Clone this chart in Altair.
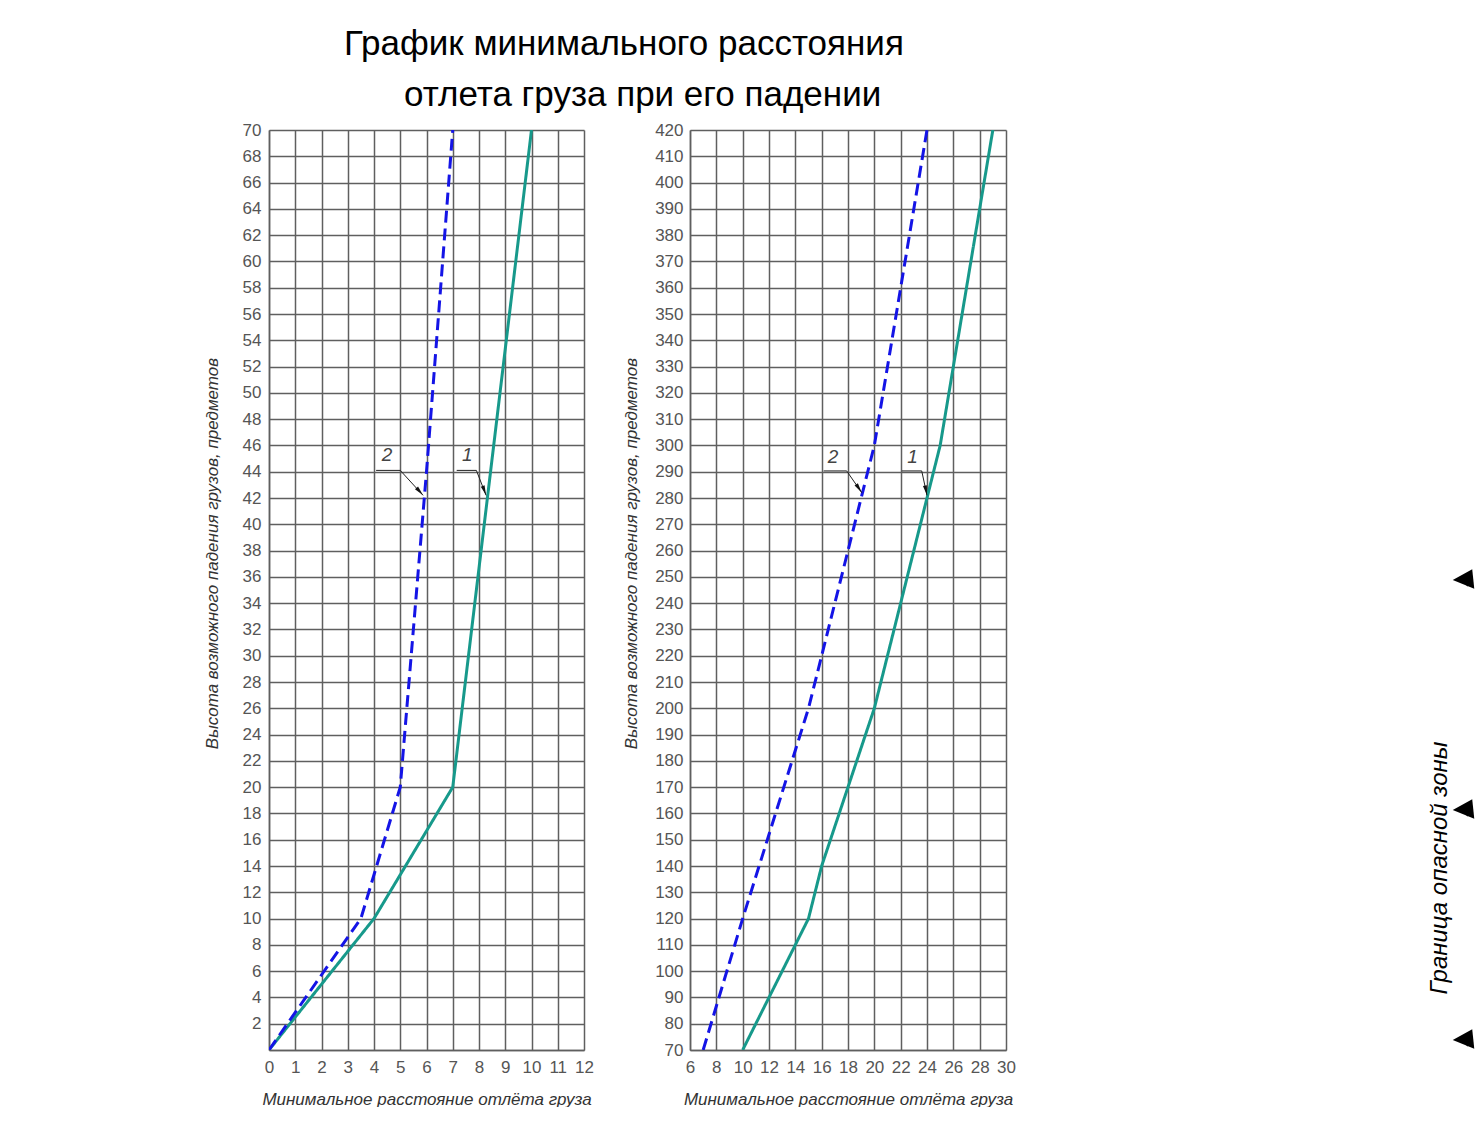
import altair as alt
import pandas as pd

# ---------------- texts ----------------
TITLE_1 = "График минимального расстояния"
TITLE_2 = "отлета груза при его падении"
Y_TITLE = "Высота возможного падения грузов, предметов"
X_TITLE = "Минимальное расстояние отлёта груза"
SIDE_TEXT = "Граница опасной зоны"
SERIES = ["1", "2"]

# ---------------- data: left panel (0..70 m) ----------------
left_h1 = [0, 10, 20, 70]
left_d1 = [0, 4, 7, 10]
left_h2 = [0, 10, 20, 44, 70]
left_d2 = [0, 3.5, 5, 6, 7]
left_x_ticks = list(range(0, 13))
left_y_ticks = list(range(0, 71, 2))

# ---------------- data: right panel (70..420 m) ----------------
right_h1 = [70, 110, 120, 140, 200, 280, 300, 390, 420]
right_d1 = [10, 14, 15, 16, 20, 24, 25, 28, 29]
right_h2 = [70, 120, 200, 300, 420]
right_d2 = [7, 10, 15, 20, 24]
right_x_ticks = list(range(6, 31, 2))
right_y_ticks = list(range(70, 421, 10))

# ---------------- callouts (leader lines "1" / "2") ----------------
left_lab_x = [4.5, 7.55]
left_lab_y = [45.3, 45.3]
left_shelf_x0 = [4.08, 7.15]
left_shelf_x1 = [5.0, 7.9]
left_shelf_y = [44.1, 44.1]
left_tip_x = [5.87, 8.27]
left_tip_y = [42.2, 42.2]
left_tip_angle = [139, 160]

right_lab_x = [16.86, 22.9]
right_lab_y = [295.6, 295.6]
right_shelf_x0 = [16.15, 22.1]
right_shelf_x1 = [17.9, 23.6]
right_shelf_y = [290.3, 290.3]
right_tip_x = [19.05, 24.0]
right_tip_y = [282.0, 281.0]
right_tip_angle = [146, 168]

# ---------------- side fragment (cut-off drawing at the right edge) ----------------
side_text_x = [20]
side_text_y = [738]
side_tri_x = [43, 43, 43]
side_tri_y = [450, 680, 910]
side_tail_x2 = [48, 48, 48]
side_tail_y2 = [456, 686, 916]

TEAL = "#17998b"
BLUE = "#1414e6"
GRID = "#5f5f5f"
LABEL_FONT = "Liberation Sans"
ARROW = "M0,0L0.5,2.5L-0.5,2.5Z"
SIDE_ARROW = "M-1,0L0.9,-1.05L1.1,0.85Z"
NO_VIEW = alt.ViewBackground(stroke="transparent", strokeWidth=0)


def make_axis(values, title, label_expr=None, title_y=None, tpad=24, lpad=8):
    kw = dict(
        values=values, title=title, grid=True, gridColor=GRID, gridWidth=1.5,
        gridOpacity=1, domainColor=GRID, domainWidth=1.5, ticks=False,
        labelFont=LABEL_FONT, labelFontSize=17, labelColor="#555",
        labelPadding=lpad, labelFlush=False, labelOverlap=False,
        titleFont=LABEL_FONT, titleFontSize=17, titleFontStyle="italic",
        titleFontWeight="normal", titleColor="#333", titlePadding=tpad,
    )
    if label_expr:
        kw["labelExpr"] = label_expr
    if title_y is not None:
        kw["titleY"] = title_y
    return alt.Axis(**kw)


def panel(d1, h1, d2, h2, xdom, ydom, xaxis, yaxis, lab_x, lab_y, sx0, sx1, sy,
          tx, ty, tang, width):
    xs = alt.Scale(domain=xdom, nice=False, zero=False)
    ys = alt.Scale(domain=ydom, nice=False, zero=False)

    def X(f):
        return alt.X(f, type="quantitative", scale=xs, axis=xaxis)

    def Y(f):
        return alt.Y(f, type="quantitative", scale=ys, axis=yaxis)

    df = pd.DataFrame({
        "d": d1 + d2,
        "h": h1 + h2,
        "s": [SERIES[0]] * len(d1) + [SERIES[1]] * len(d2),
    })
    lines = alt.Chart(df).mark_line(strokeWidth=3, clip=True).encode(
        x=X("d"), y=Y("h"),
        color=alt.Color("s:N", scale=alt.Scale(domain=SERIES, range=[TEAL, BLUE]), legend=None),
        strokeDash=alt.StrokeDash("s:N", scale=alt.Scale(domain=SERIES, range=[[1, 0], [12, 6]]), legend=None),
        order=alt.Order("h:Q"),
    )

    seg = pd.DataFrame({
        "d": sx0 + sx1,
        "h": sy + sy,
        "d2": sx1 + tx,
        "h2": sy + ty,
    })
    rules = alt.Chart(seg).mark_rule(color="#222", strokeWidth=1).encode(
        x=X("d"), y=Y("h"), x2="d2", y2="h2"
    )

    tips = pd.DataFrame({"d": tx, "h": ty, "a": tang})
    heads = alt.Chart(tips).mark_point(shape=ARROW, filled=True, color="#111", size=64, opacity=1).encode(
        x=X("d"), y=Y("h"), angle=alt.Angle("a:Q", scale=None)
    )

    labs = pd.DataFrame({"d": lab_x, "h": lab_y, "t": SERIES[::-1]})
    texts = alt.Chart(labs).mark_text(font=LABEL_FONT, fontStyle="italic", fontSize=19, color="#444").encode(
        x=X("d"), y=Y("h"), text="t:N"
    )

    return alt.layer(lines, rules, heads, texts).properties(width=width, height=920, view=NO_VIEW)


left = panel(
    left_d1, left_h1, left_d2, left_h2, [0, 12], [0, 70],
    make_axis(left_x_ticks, X_TITLE, tpad=16, lpad=9),
    make_axis(left_y_ticks, Y_TITLE, label_expr="datum.value == 0 ? '' : datum.label",
              title_y=423, tpad=21, lpad=8),
    left_lab_x, left_lab_y, left_shelf_x0, left_shelf_x1, left_shelf_y,
    left_tip_x, left_tip_y, left_tip_angle, 315,
)

right = panel(
    right_d1, right_h1, right_d2, right_h2, [6, 30], [70, 420],
    make_axis(right_x_ticks, X_TITLE, tpad=16, lpad=9),
    make_axis(right_y_ticks, Y_TITLE, title_y=423, tpad=14, lpad=7),
    right_lab_x, right_lab_y, right_shelf_x0, right_shelf_x1, right_shelf_y,
    right_tip_x, right_tip_y, right_tip_angle, 316,
)

sxs = alt.Scale(domain=[0, 48], nice=False, zero=False)
sys_ = alt.Scale(domain=[0, 920], nice=False, zero=False, reverse=True)
SX = alt.X("x:Q", scale=sxs, axis=None)
SY = alt.Y("y:Q", scale=sys_, axis=None)
side_t = alt.Chart(pd.DataFrame({"x": side_text_x, "y": side_text_y, "t": [SIDE_TEXT]})).mark_text(
    angle=270, font="Liberation Sans", fontStyle="italic", fontSize=24, color="black"
).encode(x=SX, y=SY, text="t:N")
side_df = pd.DataFrame({"x": side_tri_x, "y": side_tri_y, "x2": side_tail_x2, "y2": side_tail_y2})
side_l = alt.Chart(side_df).mark_rule(color="black", strokeWidth=1.5).encode(
    x=SX, y=SY, x2="x2", y2="y2"
)
side_p = alt.Chart(side_df).mark_point(
    shape=SIDE_ARROW, filled=True, color="black", size=420, opacity=1
).encode(x=SX, y=SY)
side = alt.layer(side_t, side_l, side_p).properties(width=48, height=920, view=NO_VIEW)

inner = alt.hconcat(left, right, spacing=28).properties(
    title=alt.TitleParams(
        text=TITLE_2, font="Liberation Sans", fontSize=35, fontWeight="normal",
        color="black", anchor="start", dx=201, offset=8,
    )
)

chart = alt.hconcat(inner, side, spacing=404).properties(
    title=alt.TitleParams(
        text=TITLE_1, font="Liberation Sans", fontSize=35, fontWeight="normal",
        color="black", anchor="start", dx=141, offset=16,
    ),
    padding={"left": 195, "top": 19, "right": 0, "bottom": 0},
).configure_view(stroke="transparent", strokeWidth=0).configure(background="white")

chart.save("out.html", embed_options={"renderer": "svg", "actions": False})
